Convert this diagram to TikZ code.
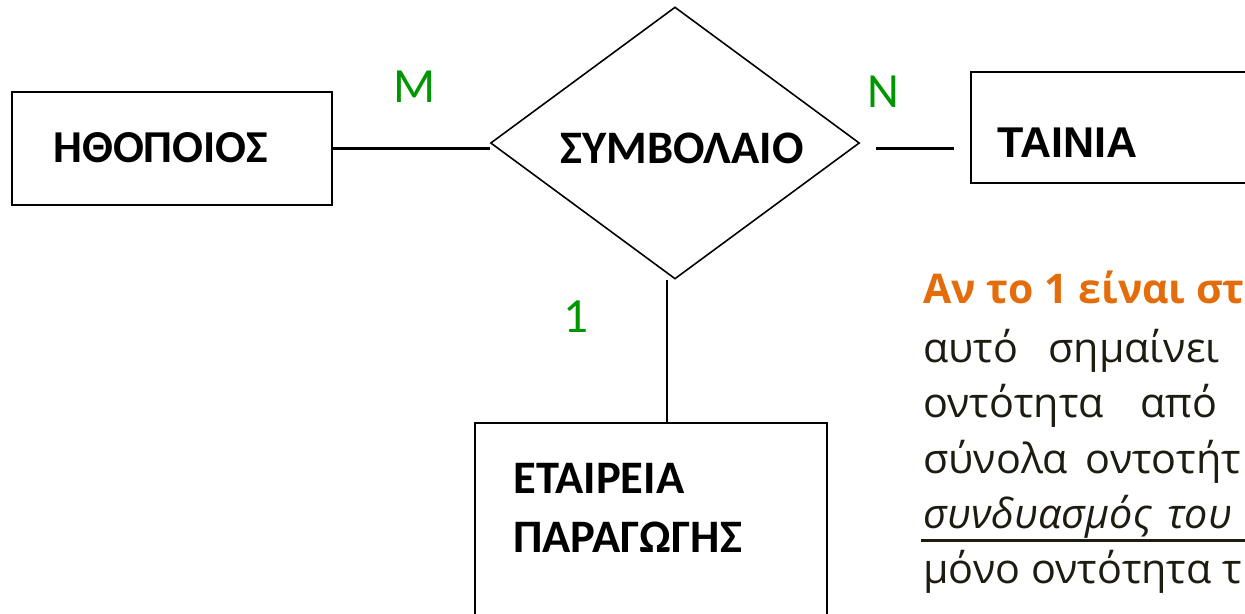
\documentclass[tikz,border=0pt]{standalone}
\usepackage{fontspec}
\setmainfont{Open Sans}
\newfontfamily\calibri{Carlito}
\newfontfamily\arialfont{Liberation Sans}
\usetikzlibrary{shapes, positioning}

\definecolor{cardgreen}{RGB}{0,150,0}
\definecolor{noteorange}{RGB}{228,108,10}
\definecolor{notetext}{RGB}{30,28,17}

\begin{document}
\begin{tikzpicture}[
        entity/.style={draw, rectangle, line width=1.2pt},
        relation/.style={draw, diamond, line width=0.9pt},
        title/.style={inner sep=0pt, anchor=base west, font=\calibri\bfseries\fontsize{26.5}{31}\selectfont},
        card/.style={inner sep=0pt, anchor=base west, text=cardgreen, font=\calibri\fontsize{28}{33}\selectfont},
        note/.style={inner sep=0pt, anchor=base west, text=notetext, font=\fontsize{23.5}{28}\selectfont},
        link/.style={line width=1.2pt}
    ]
        \useasboundingbox (0,0) rectangle (24.9,-12.26);
        \clip (0,0) rectangle (24.9,-12.26);

        % Entities and relationship
        \node[entity, minimum width=6.4cm, minimum height=2.26cm] (actor) at (3.44,-2.97) {};
        \node[relation, minimum width=7.38cm, minimum height=5.44cm] (contract) at (13.5,-2.86) {};
        \node[entity, minimum width=6.58cm, minimum height=2.22cm] (film) at (22.71,-2.55) {};
        \node[entity, minimum width=7.04cm, minimum height=4.74cm] (firm) at (13.02,-10.83) {};

        % Names
        \node[title, font=\calibri\bfseries\fontsize{26}{31}\selectfont] (actorname) at (1.06,-3.24) {ΗΘΟΠΟΙΟΣ};
        \node[title] (contractname) at (11.2,-3.26) {ΣΥΜΒΟΛΑΙΟ};
        \node[title, font=\arialfont\bfseries\fontsize{24.5}{29}\selectfont] (filmname) at (19.94,-3.14) {ΤΑΙΝΙΑ};
        \node[title] (firmname) at (10.26,-9.86) {ΕΤΑΙΡΕΙΑ};
        \node[title] (firmname2) at (10.26,-11.04) {ΠΑΡΑΓΩΓΗΣ};

        % Lines
        \draw[link] (actor.east) -- (contract.west |- actor.east);
        \draw[link, shorten <=0.32cm, shorten >=0.32cm] (contract.east |- actor.east) -- (film.west |- actor.east);
        \draw[link] ([xshift=-0.16cm]contract.south) -- ([xshift=-0.16cm]contract.south |- firm.north);

        % Cardinalities
        \node[card] (cardm) at (7.86,-2.04) {M};
        \node[card] (cardn) at (17.34,-2.14) {N};
        \node[card] (cardone) at (11.26,-6.64) {1};

        % Note
        \node[note, text=noteorange, font=\bfseries\fontsize{23.3}{28}\selectfont] (note1) at (18.46,-6.06) {Αν το 1 είναι στ};
        \node[note] (note2) at (18.46,-7.24) {\makebox[2.5cm][l]{αυτό}σημαίνει};
        \node[note] (note3) at (18.46,-8.34) {\makebox[4.34cm][l]{οντότητα}από};
        \node[note] (note4) at (18.46,-9.46) {\makebox[3.25cm][l]{σύνολα}οντοτήτ};
        \node[note] (note5) at (18.46,-10.56) {\itshape\makebox[4.88cm][l]{συνδυασμός}του};
        \node[note] (note6) at (18.46,-11.66) {μόνο οντότητα τ};
        \draw[notetext, line width=1.7pt] ([shift={(-0.04,-0.24)}]note5.base west) -- ([yshift=-0.24cm]note5.base east -| film.east);
    \end{tikzpicture}
\end{document}
